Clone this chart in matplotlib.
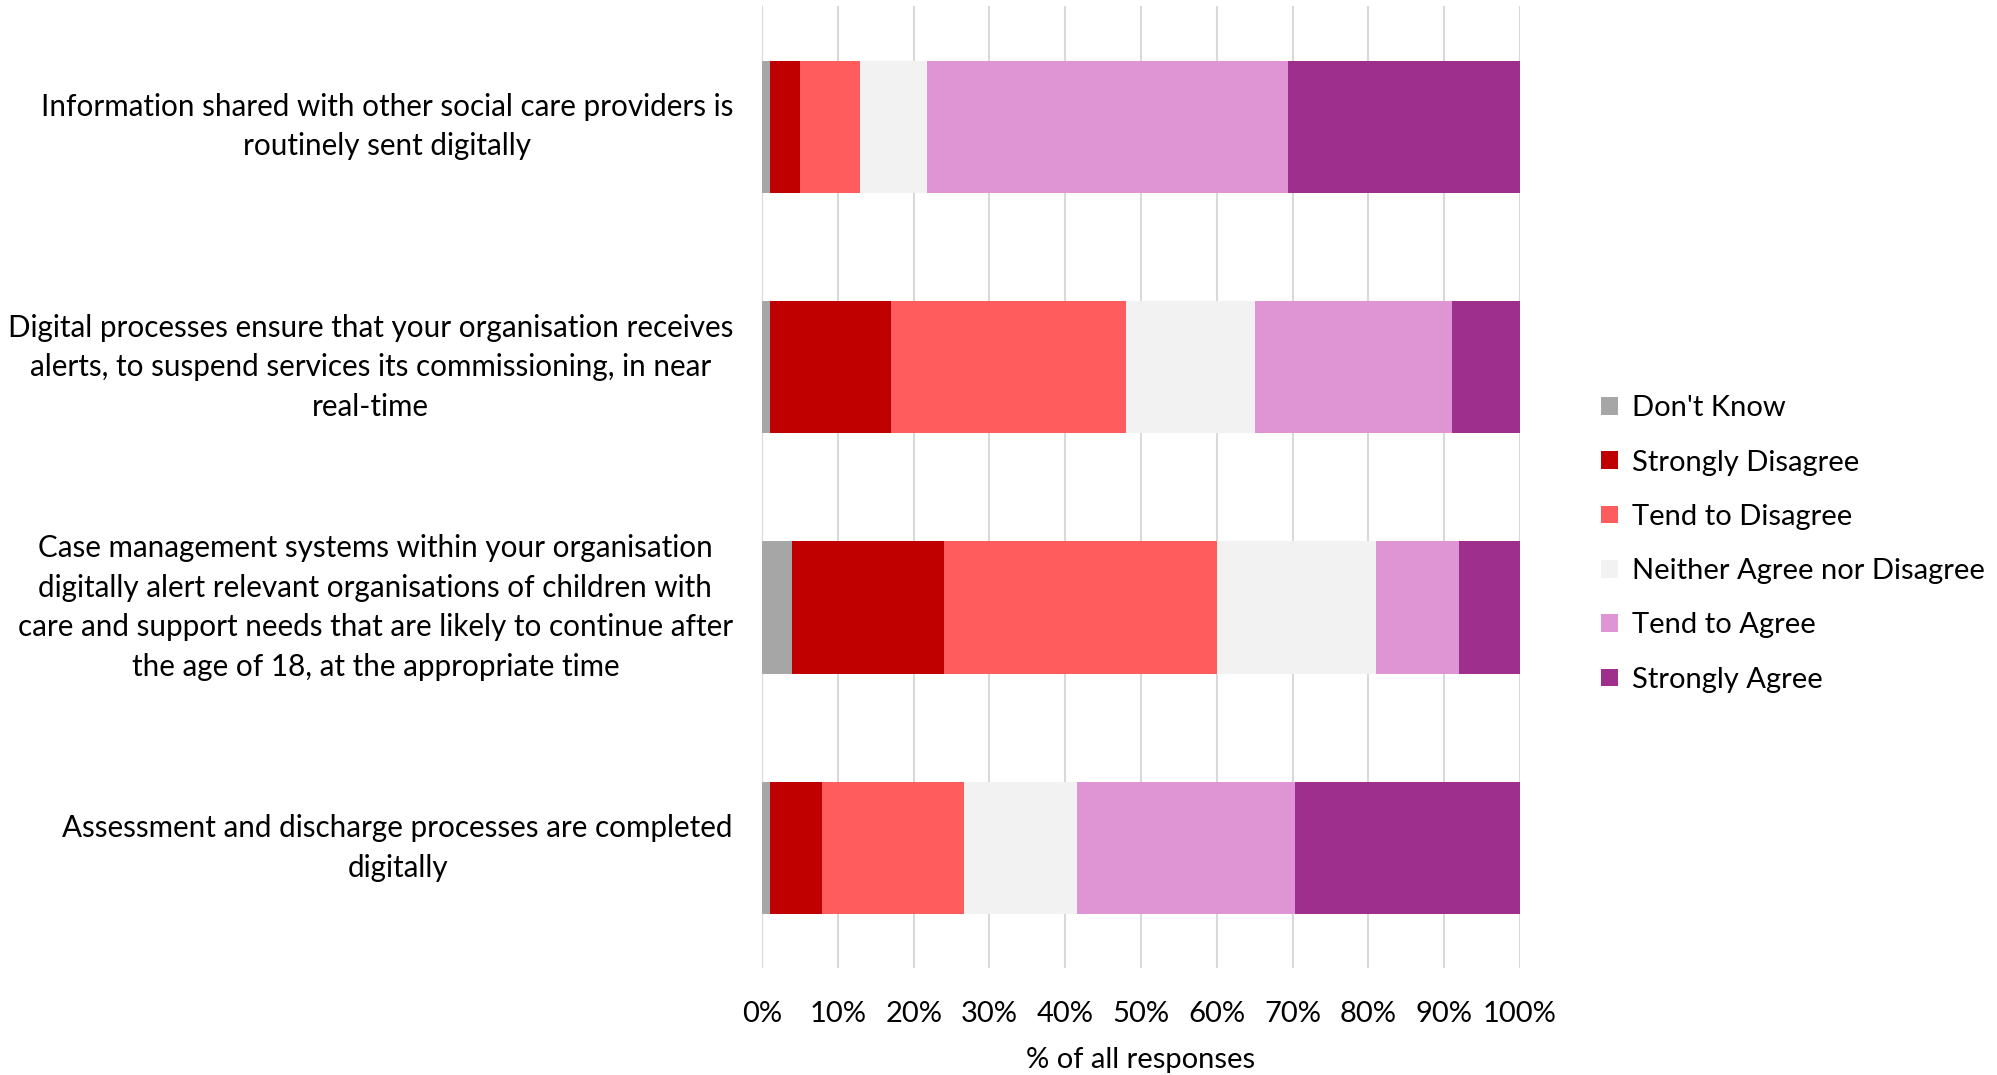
import matplotlib
matplotlib.use("Agg")
import matplotlib.pyplot as plt
from matplotlib.ticker import PercentFormatter
import numpy as np

plt.rcParams['font.family'] = ['Lato', 'DejaVu Sans']

questions = [
    "Information shared with other social care providers is\nroutinely sent digitally",
    "Digital processes ensure that your organisation receives\nalerts, to suspend services its commissioning, in near\nreal-time",
    "Case management systems within your organisation\ndigitally alert relevant organisations of children with\ncare and support needs that are likely to continue after\nthe age of 18, at the appropriate time",
    "Assessment and discharge processes are completed\ndigitally",
]
responses = ["Don't Know", "Strongly Disagree", "Tend to Disagree",
             "Neither Agree nor Disagree", "Tend to Agree", "Strongly Agree"]
colors = ["#a6a6a6", "#c00000", "#ff5d5d", "#f2f2f2", "#df95d4", "#9e2f8d"]

# percent of responses per question, one list per response option
dont_know = [1.0, 1.0, 4.0, 1.0]
strongly_disagree = [4.0, 16.0, 20.0, 6.9]
tend_disagree = [7.9, 31.0, 36.0, 18.8]
neither = [8.9, 17.0, 21.0, 14.9]
tend_agree = [47.6, 26.0, 11.0, 28.7]
strongly_agree = [30.6, 9.0, 8.0, 29.7]

series = [dont_know, strongly_disagree, tend_disagree, neither, tend_agree, strongly_agree]

fig = plt.figure(figsize=(19.97, 10.75), dpi=100)
ax = fig.add_axes([0.3816, 0.0995, 0.3795, 0.8945])

y = np.arange(len(questions))
left = np.zeros(len(questions))
for name, vals, c in zip(responses, series, colors):
    ax.barh(y, vals, left=left, height=0.55, color=c, label=name, zorder=3)
    left += np.array(vals)

ax.set_xlim(0, 100)
ax.set_ylim(len(questions) - 0.5, -0.5)
ax.set_xticks(np.arange(0, 101, 10))
ax.xaxis.set_major_formatter(PercentFormatter(decimals=0))
ax.grid(axis='x', color='#d9d9d9', linewidth=1.5, zorder=0)
for s in ax.spines.values():
    s.set_visible(False)

ax.set_yticks(y)
ax.set_yticklabels(questions, fontsize=21.3, linespacing=1.5)
for t in ax.get_yticklabels():
    t.set_multialignment('center')
    t.set_va('center')
ax.tick_params(axis='y', length=0, pad=21)
ax.tick_params(axis='x', length=0, pad=24, labelsize=21)
ax.set_xlabel('% of all responses', fontsize=21, labelpad=14)

ax.legend(loc='center left', bbox_to_anchor=(1.073, 0.441), frameon=False,
          fontsize=21, handlelength=0.55, handleheight=0.55, handletextpad=0.5,
          labelspacing=0.97)

fig.savefig('out.png', dpi=100)
